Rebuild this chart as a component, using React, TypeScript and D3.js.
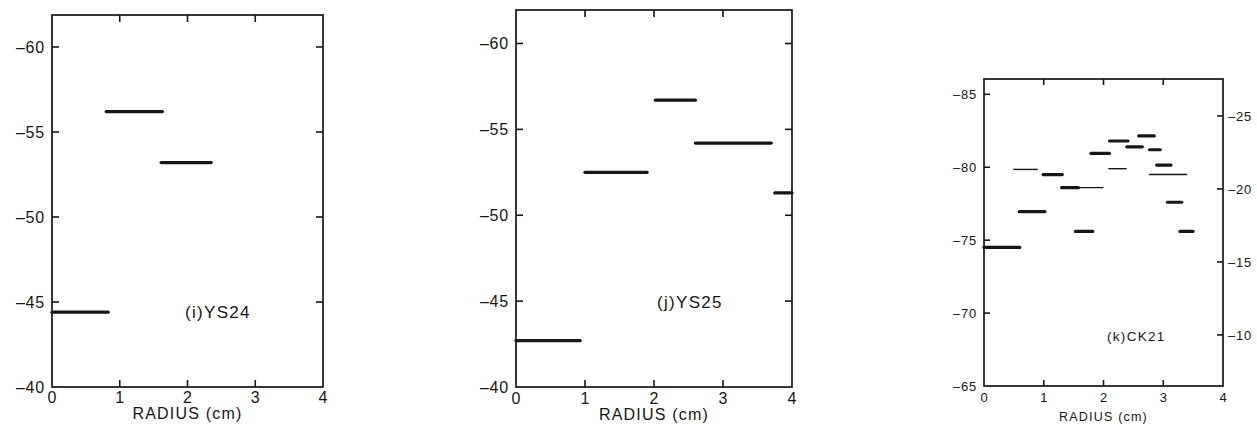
import * as d3 from "d3";

// segments: [radius start, radius end, value]
const ys24Segments: [number, number, number][] = [
  [0, 0.83, -44.4],
  [0.8, 1.63, -56.2],
  [1.61, 2.35, -53.2],
];

const ys25Segments: [number, number, number][] = [
  [0, 0.93, -42.7],
  [1.0, 1.9, -52.5],
  [2.02, 2.6, -56.7],
  [2.6, 3.7, -54.2],
  [3.75, 4.0, -51.3],
];

const ck21Thick: [number, number, number][] = [
  [0, 0.6, -74.5],
  [0.59, 1.02, -76.95],
  [0.99, 1.31, -79.5],
  [1.3, 1.58, -78.6],
  [1.53, 1.82, -75.6],
  [1.79, 2.1, -80.95],
  [2.1, 2.41, -81.8],
  [2.39, 2.65, -81.4],
  [2.59, 2.85, -82.15],
  [2.77, 2.95, -81.2],
  [2.89, 3.13, -80.15],
  [3.07, 3.31, -77.6],
  [3.28, 3.5, -75.6],
];

const ck21Thin: [number, number, number][] = [
  [0.49, 0.9, -79.85],
  [1.3, 2.0, -78.6],
  [2.08, 2.39, -79.9],
  [2.76, 3.4, -79.5],
];

const radiusTicks = [0, 1, 2, 3, 4];
const ysTicks = [-60, -55, -50, -45, -40];
const ckTicks = [-85, -80, -75, -70, -65];
const ckRightTicks = [-25, -20, -15, -10];

const fmt = (v: number) => (v < 0 ? "\u2013" + Math.abs(v) : String(v));
const ink = "#161616";
const font = "'Liberation Sans', Arial, sans-serif";

type PanelProps = {
  left: number;
  right: number;
  top: number;
  bottom: number;
  yDomain: [number, number];
  yTicks: number[];
  thick: [number, number, number][];
  thin?: [number, number, number][];
  label: string;
  labelX: number;
  labelY: number;
  fs: number;
  labelFs: number;
  digitDy: number;
  titleDy: number;
  tick: number;
  rightDomain?: [number, number];
  rightTicks?: number[];
};

function Panel(p: PanelProps) {
  const x = d3.scaleLinear().domain([0, 4]).range([p.left, p.right]);
  const y = d3.scaleLinear().domain(p.yDomain).range([p.bottom, p.top]);
  const yr = p.rightDomain
    ? d3.scaleLinear().domain(p.rightDomain).range([p.bottom, p.top])
    : null;
  const inner = radiusTicks.filter((t) => t > 0 && t < 4);
  const innerY = p.yTicks.filter((t) => t !== p.yDomain[0]);
  return (
    <g fontFamily={font} fill={ink}>
      <rect
        x={p.left}
        y={p.top}
        width={p.right - p.left}
        height={p.bottom - p.top}
        fill="none"
        stroke={ink}
        strokeWidth={1.7}
      />
      {inner.map((t) => (
        <g key={"xt" + t} stroke={ink} strokeWidth={1.6}>
          <line x1={x(t)} x2={x(t)} y1={p.bottom} y2={p.bottom - p.tick} />
          <line x1={x(t)} x2={x(t)} y1={p.top} y2={p.top + p.tick} />
        </g>
      ))}
      {innerY.map((t) => (
        <g key={"yt" + t} stroke={ink} strokeWidth={1.6}>
          <line x1={p.left} x2={p.left + p.tick} y1={y(t)} y2={y(t)} />
          {!yr && (
            <line x1={p.right} x2={p.right - p.tick} y1={y(t)} y2={y(t)} />
          )}
        </g>
      ))}
      {p.yTicks.map((t) => (
        <text
          key={"yl" + t}
          x={p.left - 7}
          y={y(t)}
          dy="0.36em"
          textAnchor="end"
          fontSize={p.fs}
          letterSpacing={0.8}
        >
          {fmt(t)}
        </text>
      ))}
      {yr &&
        p.rightTicks!.map((t) => (
          <g key={"yr" + t}>
            <line
              x1={p.right}
              x2={p.right - p.tick}
              y1={yr(t)}
              y2={yr(t)}
              stroke={ink}
              strokeWidth={1.6}
            />
            <text
              x={p.right + 5}
              y={yr(t)}
              dy="0.36em"
              fontSize={p.fs}
              letterSpacing={0.8}
            >
              {fmt(t)}
            </text>
          </g>
        ))}
      {radiusTicks.map((t) => (
        <text
          key={"xl" + t}
          x={x(t)}
          y={p.bottom + p.digitDy}
          textAnchor="middle"
          fontSize={p.fs}
        >
          {t}
        </text>
      ))}
      <text
        x={(p.left + p.right) / 2}
        y={p.bottom + p.titleDy}
        textAnchor="middle"
        fontSize={p.labelFs - 1}
        letterSpacing={1.2}
      >
        RADIUS (cm)
      </text>
      <text
        x={p.labelX}
        y={p.labelY}
        fontSize={p.labelFs}
        letterSpacing={1.3}
      >
        {p.label}
      </text>
      {p.thick.map(([a, b, v], i) => (
        <line
          key={"s" + i}
          x1={x(a)}
          x2={x(b)}
          y1={y(v)}
          y2={y(v)}
          stroke={ink}
          strokeWidth={3.2}
          strokeLinecap="round"
        />
      ))}
      {(p.thin || []).map(([a, b, v], i) => (
        <line
          key={"t" + i}
          x1={x(a)}
          x2={x(b)}
          y1={y(v)}
          y2={y(v)}
          stroke={ink}
          strokeWidth={1.4}
        />
      ))}
    </g>
  );
}

export default function App() {
  return (
    <svg
      width={1257}
      height={434}
      style={{ position: "absolute", left: 0, top: 0, background: "#fff" }}
    >
      <Panel
        left={52}
        right={323}
        top={15}
        bottom={387}
        yDomain={[-40, -61.88]}
        yTicks={ysTicks}
        thick={ys24Segments}
        label="(i)YS24"
        labelX={185}
        labelY={318}
        fs={16}
        labelFs={17}
        digitDy={16}
        titleDy={32}
        tick={7}
      />
      <Panel
        left={516}
        right={792}
        top={10}
        bottom={387}
        yDomain={[-40, -61.95]}
        yTicks={ysTicks}
        thick={ys25Segments}
        label="(j)YS25"
        labelX={657}
        labelY={308}
        fs={16}
        labelFs={17}
        digitDy={17}
        titleDy={33}
        tick={7}
      />
      <Panel
        left={984}
        right={1223}
        top={79}
        bottom={386}
        yDomain={[-65, -86.05]}
        yTicks={ckTicks}
        thick={ck21Thick}
        thin={ck21Thin}
        label="(k)CK21"
        labelX={1107}
        labelY={341}
        fs={13}
        labelFs={13.5}
        digitDy={16}
        titleDy={35}
        tick={6}
        rightDomain={[-6.5, -27.53]}
        rightTicks={ckRightTicks}
      />
    </svg>
  );
}
